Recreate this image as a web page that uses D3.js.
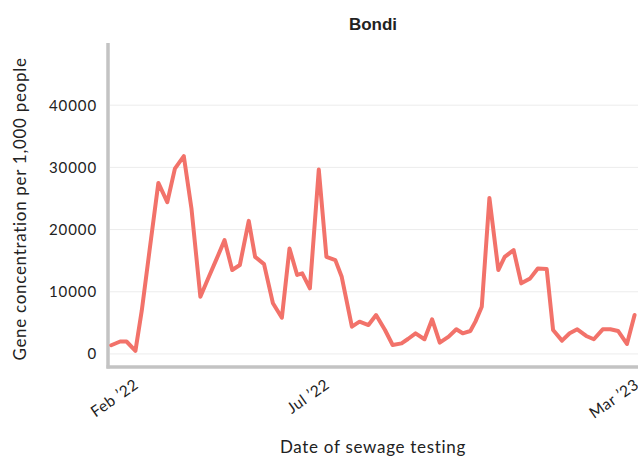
<!DOCTYPE html>
<html>
<head>
<meta charset="utf-8">
<script src="https://cdn.jsdelivr.net/npm/d3@7"></script>
<style>
  html, body { margin: 0; padding: 0; background: #fff; }
  svg { display: block; }
  text { font-family: Lato, "Open Sans", sans-serif; fill: #222; }
</style>
</head>
<body>
<svg id="chart" width="638" height="457"></svg>
<script>
// ---- data ----
const title = "Bondi";
const xTitle = "Date of sewage testing";
const yTitle = "Gene concentration per 1,000 people";

const dates = [
  "2022-01-11","2022-01-18","2022-01-23","2022-01-30","2022-02-04","2022-02-10","2022-02-17","2022-02-24",
  "2022-03-02","2022-03-09","2022-03-15","2022-03-22","2022-03-28","2022-04-04","2022-04-10","2022-04-16",
  "2022-04-22","2022-04-29","2022-05-04","2022-05-11","2022-05-18","2022-05-25","2022-05-31","2022-06-06",
  "2022-06-10","2022-06-16","2022-06-23","2022-06-29","2022-07-06","2022-07-11","2022-07-19","2022-07-25",
  "2022-08-01","2022-08-07","2022-08-14","2022-08-20","2022-08-27","2022-09-01","2022-09-07","2022-09-14",
  "2022-09-20","2022-09-26","2022-10-03","2022-10-09","2022-10-14","2022-10-20","2022-10-24","2022-10-29",
  "2022-11-04","2022-11-11","2022-11-16","2022-11-23","2022-11-29","2022-12-06","2022-12-12","2022-12-19",
  "2022-12-24","2022-12-31","2023-01-06","2023-01-12","2023-01-19","2023-01-25","2023-02-01","2023-02-07",
  "2023-02-13","2023-02-20","2023-02-26"
];
const values = [
  1400, 2000, 2000, 500, 7000, 16500, 27500, 24400,
  29800, 31800, 23400, 9200, 12100, 15400, 18300, 13500,
  14300, 21400, 15600, 14450, 8140, 5830, 16950, 12700,
  12950, 10550, 29650, 15600, 15090, 12400, 4380, 5190,
  4650, 6260, 3850, 1440, 1700, 2400, 3320, 2360,
  5570, 1810, 2780, 3960, 3320, 3690, 5200, 7600,
  25090, 13480, 15600, 16700, 11350, 12150, 13750, 13640,
  3850, 2140, 3320, 3960, 2890, 2360, 3960, 3960,
  3690, 1600, 6260
];
const yTicks = [0, 10000, 20000, 30000, 40000];
const xTickDates = ["2022-02-01", "2022-07-01", "2023-03-01"];
const xTickLabels = ["Feb \u201922", "Jul \u201922", "Mar \u201923"];

// ---- chart ----
const svg = d3.select("#chart");
const parse = d3.utcParse("%Y-%m-%d");
const data = dates.map((d, i) => ({ date: parse(d), value: values[i] }));

const x = d3.scaleUtc()
  .domain([parse("2022-01-01"), parse("2023-03-01")])
  .range([98.5, 638.4]);
const y = d3.scaleLinear()
  .domain([-2100, 50000])
  .range([367, 43]);

const plotLeft = 108, plotRight = 638;

// gridlines
svg.append("g").selectAll("line")
  .data(yTicks)
  .join("line")
  .attr("x1", plotLeft + 2).attr("x2", plotRight)
  .attr("y1", d => y(d)).attr("y2", d => y(d))
  .attr("stroke", "#ececec").attr("stroke-width", 1);

// y axis tick labels
const yAxis = d3.axisLeft(y).tickValues(yTicks).tickSize(0).tickPadding(0).tickFormat(d3.format("d"));
const gy = svg.append("g").attr("transform", `translate(${plotLeft - 11},0)`).call(yAxis);
gy.select(".domain").remove();
gy.selectAll("text").style("font-size", "15px").style("font-family", "Lato, sans-serif")
  .style("letter-spacing", "0.9px").attr("fill", "#222");

// x axis tick labels
const xAxis = d3.axisBottom(x)
  .tickValues(xTickDates.map(parse))
  .tickSize(0)
  .tickFormat((d, i) => xTickLabels[i]);
const gx = svg.append("g").attr("transform", `translate(0,${y(-2100)})`).call(xAxis);
gx.select(".domain").remove();
gx.selectAll("text")
  .style("font-size", "15.5px").style("font-family", "Lato, sans-serif")
  .style("letter-spacing", "0.5px").attr("fill", "#222")
  .attr("text-anchor", "end")
  .attr("dy", null).attr("y", null)
  .attr("transform", "translate(1,20) rotate(-35)");

// axis lines
svg.append("line")
  .attr("x1", plotLeft).attr("x2", plotLeft)
  .attr("y1", y(50000)).attr("y2", y(-2100) + 1.5)
  .attr("stroke", "#c3c3c3").attr("stroke-width", 3.5);
svg.append("line")
  .attr("x1", plotLeft - 1.5).attr("x2", plotRight)
  .attr("y1", y(-2100)).attr("y2", y(-2100))
  .attr("stroke", "#c3c3c3").attr("stroke-width", 3.5);

// line
const line = d3.line().x(d => x(d.date)).y(d => y(d.value)).curve(d3.curveLinear);
svg.append("path")
  .datum(data)
  .attr("d", line)
  .attr("fill", "none")
  .attr("stroke", "#f2726a")
  .attr("stroke-width", 4)
  .attr("stroke-linejoin", "round")
  .attr("stroke-linecap", "round");

// titles
svg.append("text")
  .attr("x", (plotLeft + plotRight) / 2).attr("y", 30)
  .attr("text-anchor", "middle")
  .style("font-family", "'Liberation Sans', Arial, sans-serif")
  .style("font-weight", "bold").style("font-size", "17px")
  .attr("fill", "#111")
  .text(title);

svg.append("text")
  .attr("x", (plotLeft + plotRight) / 2).attr("y", 453)
  .attr("text-anchor", "middle")
  .style("font-size", "17px").style("letter-spacing", "0.7px")
  .text(xTitle);

svg.append("text")
  .attr("transform", `translate(26,${(43 + 367) / 2 + 4}) rotate(-90)`)
  .attr("text-anchor", "middle")
  .style("font-size", "17px").style("letter-spacing", "0.7px")
  .text(yTitle);
</script>
</body>
</html>
